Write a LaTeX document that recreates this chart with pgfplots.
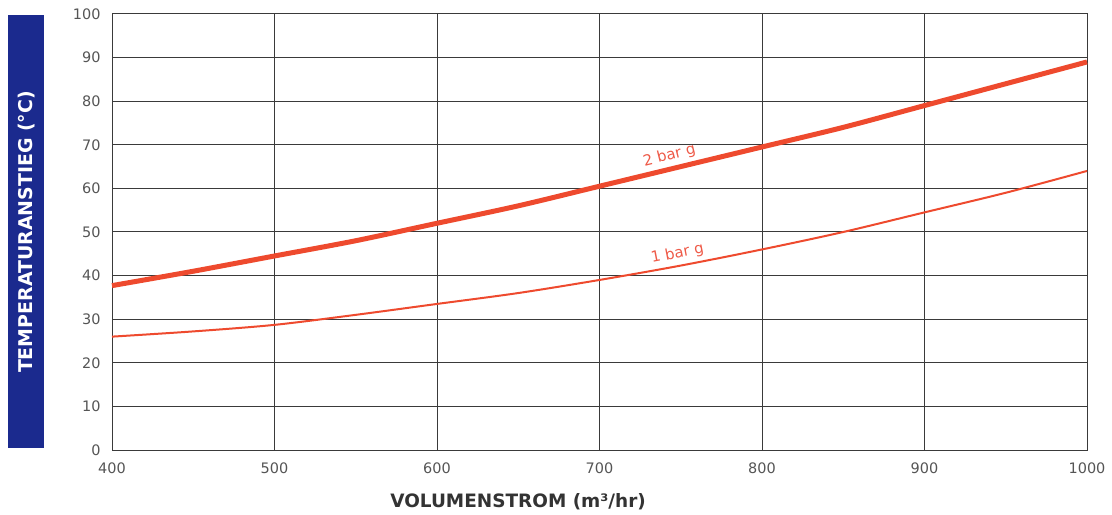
\documentclass[border=0pt]{standalone}
\usepackage{pgfplots}
\pgfplotsset{compat=1.18}
\usepackage{fontspec}
\setmainfont{DejaVu Sans}
\definecolor{boxblue}{HTML}{1B2A8E}
\definecolor{curvered}{HTML}{EE4A2E}
\definecolor{labelred}{HTML}{EE5A48}
\definecolor{gridgray}{HTML}{3A3A3A}
\definecolor{tickgray}{HTML}{555555}
\begin{document}
\begin{tikzpicture}
\useasboundingbox (0,0) rectangle (1112bp,515bp);
% blue box behind the y label
\fill[boxblue] (8bp,67bp) rectangle (44bp,500bp);
\node[rotate=90, text=white, font=\fontsize{19}{22}\selectfont\bfseries]
  at (27bp,283bp) {TEMPERATURANSTIEG (°C)};
\begin{axis}[
    at={(112bp,65bp)}, anchor=south west,
    scale only axis,
    width=975bp, height=436bp,
    xmin=400, xmax=1000, ymin=0, ymax=100,
    xtick={400,500,...,1000},
    ytick={0,10,...,100},
    grid=major,
    major grid style={gridgray, line width=1bp},
    axis line style={gridgray, line width=1bp},
    tick style={draw=none},
    ticklabel style={text=tickgray, font=\fontsize{14.5}{16}\selectfont},
    /pgf/number format/assume math mode=true,
    /pgf/number format/1000 sep={},
    xticklabel style={yshift=-9bp},
    yticklabel style={xshift=-8bp},
    xlabel={VOLUMENSTROM (m³/hr)},
    xlabel style={font=\fontsize{18.5}{21}\selectfont\bfseries, text=black!80,
      at={(axis description cs:0.4165,0)}, anchor=center, yshift=-52bp},
    clip=false,
]
% 2 bar g
\addplot[curvered, line width=5bp, smooth] coordinates {
(400,37.7)(450,41)(500,44.5)(550,48)(600,52)(650,56)(700,60.5)
(750,65)(800,69.5)(850,74)(900,79)(950,84)(1000,89)
};
% 1 bar g
\addplot[curvered, line width=2bp, smooth] coordinates {
(400,26)(450,27.2)(500,28.7)(550,31)(600,33.5)(650,36)(700,39)
(750,42.3)(800,46)(850,50)(900,54.5)(950,59)(1000,64)
};
\node[text=labelred, rotate=14, font=\fontsize{15}{17}\selectfont]
  at (axis cs:743,67.5) {2 bar g};
\node[text=labelred, rotate=11, font=\fontsize{15}{17}\selectfont]
  at (axis cs:748,45) {1 bar g};
\end{axis}
\end{tikzpicture}
\end{document}
